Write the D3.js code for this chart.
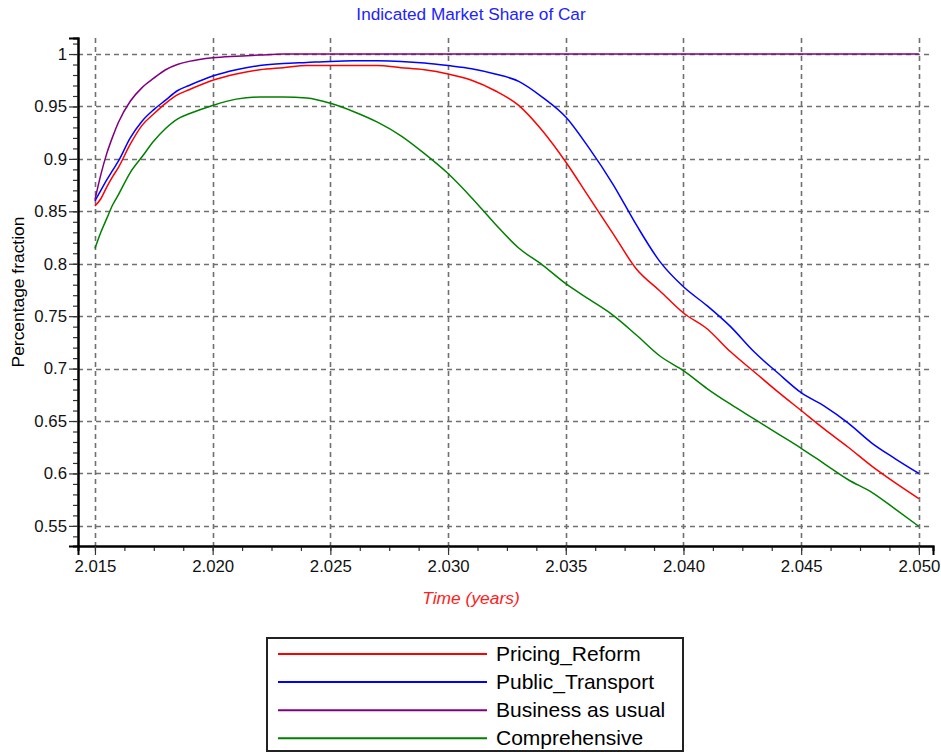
<!DOCTYPE html>
<html>
<head>
<meta charset="utf-8">
<script src="https://cdn.jsdelivr.net/npm/d3@7"></script>
<style>
    body { margin: 0; background: #fff; }
    svg { font-family: "Liberation Sans", Arial, sans-serif; }
</style>
</head>
<body>
<div id="chart"></div>
<script>
// time points (years)
const years = [2015, 2015.25, 2015.5, 2015.75, 2016, 2016.5, 2017, 2017.5, 2018, 2018.5, 2019,
    2020, 2021, 2022, 2023, 2024, 2025, 2026, 2027, 2028, 2029, 2030,
    2031, 2032, 2033, 2034, 2035, 2036, 2037, 2038, 2039, 2040,
    2041, 2042, 2043, 2044, 2045, 2046, 2047, 2048, 2049, 2050];

const pricing_reform = [0.855, 0.862, 0.873, 0.883, 0.892, 0.914, 0.932, 0.943, 0.953, 0.961, 0.966,
    0.975, 0.981, 0.985, 0.987, 0.989, 0.989, 0.989, 0.989, 0.987, 0.985, 0.981,
    0.975, 0.965, 0.951, 0.927, 0.897, 0.863, 0.829, 0.795, 0.774, 0.753,
    0.738, 0.716, 0.697, 0.678, 0.660, 0.642, 0.625, 0.607, 0.591, 0.576];

const public_transport = [0.860, 0.870, 0.880, 0.889, 0.898, 0.920, 0.936, 0.947, 0.956, 0.965, 0.970,
    0.979, 0.985, 0.989, 0.991, 0.992, 0.993, 0.9935, 0.9935, 0.993, 0.9915, 0.989,
    0.986, 0.981, 0.974, 0.959, 0.940, 0.910, 0.876, 0.837, 0.802, 0.778,
    0.760, 0.740, 0.716, 0.696, 0.677, 0.664, 0.648, 0.629, 0.614, 0.600];

const business_as_usual = [0.861, 0.885, 0.905, 0.921, 0.935, 0.955, 0.968, 0.977, 0.985, 0.990, 0.993,
    0.9965, 0.998, 0.999, 1, 1, 1, 1, 1, 1, 1, 1,
    1, 1, 1, 1, 1, 1, 1, 1, 1, 1,
    1, 1, 1, 1, 1, 1, 1, 1, 1, 1];

const comprehensive = [0.8145, 0.830, 0.843, 0.856, 0.866, 0.887, 0.902, 0.917, 0.929, 0.938, 0.943,
    0.951, 0.957, 0.959, 0.959, 0.958, 0.953, 0.945, 0.935, 0.922, 0.905, 0.886,
    0.863, 0.838, 0.815, 0.799, 0.781, 0.766, 0.751, 0.732, 0.712, 0.698,
    0.681, 0.666, 0.652, 0.638, 0.624, 0.609, 0.594, 0.582, 0.566, 0.5495];

const series_names = ["Pricing_Reform", "Public_Transport", "Business as usual", "Comprehensive"];
const series_values = [pricing_reform, public_transport, business_as_usual, comprehensive];
const series_colors = ["#ff0000", "#0000ff", "#800080", "#008000"];

const x_ticks = [2015, 2020, 2025, 2030, 2035, 2040, 2045, 2050];
const y_ticks = [0.55, 0.6, 0.65, 0.7, 0.75, 0.8, 0.85, 0.9, 0.95, 1];

// svg
const width = 941, height = 753;
const plot = {left: 78, right: 933, top: 38, bottom: 546};

const svg = d3.select("#chart")
    .append("svg")
    .attr("width", width)
    .attr("height", height);

// scales
const x = d3.scaleLinear()
    .domain([2014.28, 2050.6])
    .range([plot.left, plot.right]);

const y = d3.scaleLinear()
    .domain([0.5308, 1.0153])
    .range([plot.bottom, plot.top]);

// grid
const grid = svg.append("g")
    .attr("stroke", "#707070")
    .attr("stroke-width", 1.6)
    .attr("stroke-dasharray", "5,4");

grid.selectAll(".hgrid")
    .data(y_ticks)
    .enter()
    .append("line")
    .attr("x1", plot.left)
    .attr("x2", plot.right)
    .attr("y1", d => Math.round(y(d)) + 0.5)
    .attr("y2", d => Math.round(y(d)) + 0.5);

grid.selectAll(".vgrid")
    .data(x_ticks)
    .enter()
    .append("line")
    .attr("y1", plot.top)
    .attr("y2", plot.bottom)
    .attr("x1", d => Math.round(x(d)) + 0.5)
    .attr("x2", d => Math.round(x(d)) + 0.5);

// axes
const x_minor = d3.range(2015, 2050.001, 1.25);
const y_minor = d3.range(0.54, 1.0101, 0.01);

const x_axis = svg.append("g")
    .attr("transform", "translate(0," + plot.bottom + ")");
x_axis.call(d3.axisBottom(x).tickValues(x_minor).tickSize(5).tickFormat(""));
x_axis.append("g")
    .call(d3.axisBottom(x).tickValues(x_ticks).tickSize(9).tickPadding(5)
        .tickFormat(d => (d / 1000).toFixed(3)));

const y_axis = svg.append("g")
    .attr("transform", "translate(" + plot.left + ",0)");
y_axis.call(d3.axisLeft(y).tickValues(y_minor).tickSize(5).tickFormat(""));
y_axis.append("g")
    .call(d3.axisLeft(y).tickValues(y_ticks).tickSize(9).tickPadding(2)
        .tickFormat(d => d3.format("")(+d.toFixed(2))));

svg.selectAll(".domain").attr("stroke", "#000").attr("stroke-width", 2);
x_axis.select("g").select(".domain").remove();
y_axis.select("g").select(".domain").remove();
svg.selectAll(".tick line").attr("stroke", "#333").attr("stroke-width", 1.2);
svg.selectAll(".tick text")
    .attr("font-size", "16.8px")
    .attr("font-family", "Liberation Sans, Arial, sans-serif")
    .attr("fill", "#111");

// lines
const line = d3.line()
    .x((d, i) => x(years[i]))
    .y(d => y(d))
    .curve(d3.curveMonotoneX);

svg.append("g")
    .selectAll("path")
    .data(series_values)
    .enter()
    .append("path")
    .attr("fill", "none")
    .attr("stroke", (d, i) => series_colors[i])
    .attr("stroke-width", 1.5)
    .attr("d", line);

// titles
svg.append("text")
    .attr("x", 471)
    .attr("y", 20)
    .attr("text-anchor", "middle")
    .attr("font-size", "17.2px")
    .attr("fill", "#2222ff")
    .text("Indicated Market Share of Car");

svg.append("text")
    .attr("transform", "translate(24,292) rotate(-90)")
    .attr("text-anchor", "middle")
    .attr("font-size", "17.4px")
    .attr("fill", "#000")
    .text("Percentage fraction");

svg.append("text")
    .attr("x", 471)
    .attr("y", 604)
    .attr("text-anchor", "middle")
    .attr("font-size", "17.4px")
    .attr("font-style", "italic")
    .attr("fill", "#ff2020")
    .text("Time (years)");

// legend
const legend = svg.append("g");

legend.append("rect")
    .attr("x", 267)
    .attr("y", 638)
    .attr("width", 416)
    .attr("height", 113)
    .attr("fill", "#fff")
    .attr("stroke", "#222")
    .attr("stroke-width", 2);

const rows = legend.selectAll(".row")
    .data(series_names)
    .enter()
    .append("g")
    .attr("transform", (d, i) => "translate(0," + (654 + i * 28.1) + ")");

rows.append("line")
    .attr("x1", 278)
    .attr("x2", 487)
    .attr("stroke", (d, i) => series_colors[i])
    .attr("stroke-width", 2);

rows.append("text")
    .attr("x", 496)
    .attr("y", 7)
    .attr("font-size", "21px")
    .attr("fill", "#000")
    .text(d => d);
</script>
</body>
</html>
